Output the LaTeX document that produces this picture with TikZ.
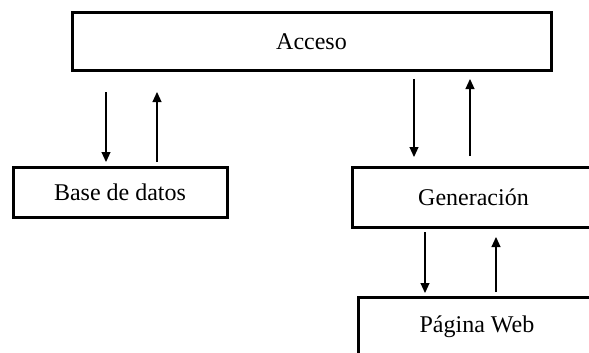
\documentclass[tikz,border=0pt]{standalone}
\usepackage{fontspec}
\setmainfont{Liberation Serif}
\usetikzlibrary{arrows.meta}
\tikzset{
  blk/.style={draw=black, line width=3pt, fill=white, inner sep=0pt,
    font=\fontsize{24}{28}\selectfont},
  arr/.style={line width=1.1pt, -{Triangle[length=10pt,width=9pt]}}
}
\begin{document}
\begin{tikzpicture}[x=1pt,y=-1pt]
  \useasboundingbox (0,0) rectangle (589,353);
  \clip (0,0) rectangle (589,353);
  % boxes
  \node[blk, minimum width=479pt, minimum height=58pt] (acc) at (311.5,42) {Acceso};
  \node[blk, minimum width=214pt, minimum height=50pt] (bd) at (120,192) {Base de datos};
  \node[blk, minimum width=243pt, minimum height=60pt] (gen) at (473.5,197) {Generación};
  \node[blk, minimum width=238pt, minimum height=59pt] (web) at (477,326.5) {Página Web};
  % arrow end points
  \coordinate (a1s) at (106,92);  \coordinate (a1e) at (106,162);
  \coordinate (a2s) at (157,162); \coordinate (a2e) at (157,92);
  \coordinate (a3s) at (414,79);  \coordinate (a3e) at (414,157);
  \coordinate (a4s) at (470,156); \coordinate (a4e) at (470,79);
  \coordinate (a5s) at (425,232); \coordinate (a5e) at (425,293);
  \coordinate (a6s) at (496,292); \coordinate (a6e) at (496,237);
  % arrows
  \draw[arr] (a1s) -- (a1e);
  \draw[arr] (a2s) -- (a2e);
  \draw[arr] (a3s) -- (a3e);
  \draw[arr] (a4s) -- (a4e);
  \draw[arr] (a5s) -- (a5e);
  \draw[arr] (a6s) -- (a6e);
\end{tikzpicture}
\end{document}
